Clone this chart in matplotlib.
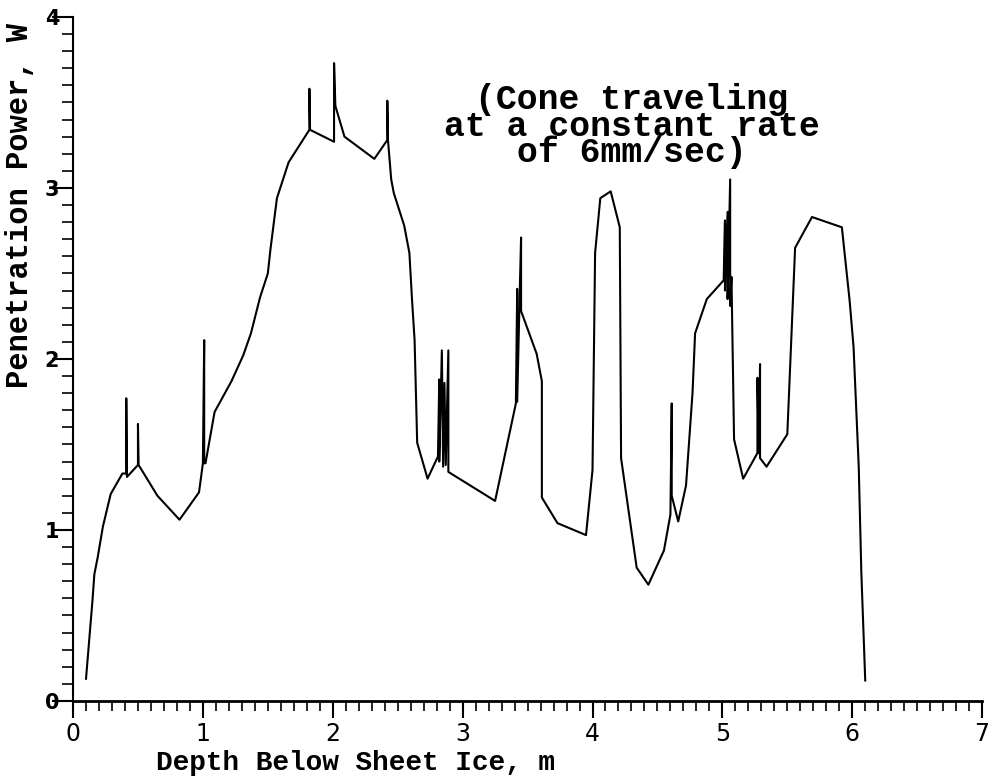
import numpy as np
import matplotlib.pyplot as plt
from matplotlib.ticker import MultipleLocator

# Depth (m) and penetration power (W); repeated depths are the spikes
depth = [0.10, 0.15, 0.164, 0.19, 0.23, 0.29, 0.38,
         0.41, 0.41, 0.415,
         0.50, 0.50, 0.505,
         0.65, 0.82, 0.97, 1.00,
         1.01, 1.01, 1.02,
         1.09, 1.22, 1.31, 1.37, 1.44, 1.50, 1.52, 1.57, 1.66,
         1.82, 1.82, 1.825,
         2.01, 2.01, 2.02,
         2.09, 2.32, 2.42, 2.42, 2.425,
         2.45, 2.47, 2.55, 2.59, 2.61, 2.63, 2.65, 2.73, 2.81,
         2.82, 2.82, 2.84, 2.85, 2.86, 2.87, 2.89, 2.89,
         2.91, 3.25, 3.41,
         3.42, 3.42, 3.44, 3.45, 3.45,
         3.57, 3.61, 3.61, 3.73, 3.95, 4.00, 4.02, 4.06, 4.14, 4.21,
         4.22, 4.34, 4.43, 4.55, 4.60, 4.61, 4.61, 4.66, 4.72, 4.77,
         4.79, 4.88, 5.01,
         5.02, 5.02, 5.04, 5.04, 5.06, 5.06, 5.07,
         5.09, 5.16, 5.27, 5.27, 5.28, 5.29, 5.29, 5.34, 5.50, 5.56,
         5.69, 5.92, 5.98, 6.01, 6.05, 6.07, 6.10]
power = [0.13, 0.59, 0.74, 0.84, 1.02, 1.21, 1.33,
         1.33, 1.77, 1.31,
         1.38, 1.62, 1.38,
         1.20, 1.06, 1.22, 1.39,
         2.11, 1.39, 1.39,
         1.69, 1.87, 2.02, 2.15, 2.36, 2.50, 2.64, 2.94, 3.15,
         3.34, 3.58, 3.34,
         3.27, 3.73, 3.48,
         3.30, 3.17, 3.28, 3.51, 3.28,
         3.05, 2.97, 2.78, 2.62, 2.35, 2.11, 1.51, 1.30, 1.43,
         1.88, 1.40, 2.05, 1.37, 1.86, 1.38, 2.05, 1.34,
         1.33, 1.17, 1.74,
         2.41, 1.75, 2.40, 2.71, 2.28,
         2.03, 1.87, 1.19, 1.04, 0.97, 1.35, 2.62, 2.94, 2.98, 2.77,
         1.42, 0.78, 0.68, 0.88, 1.09, 1.74, 1.20, 1.05, 1.26, 1.80,
         2.15, 2.35, 2.46,
         2.81, 2.40, 2.86, 2.35, 3.05, 2.31, 2.48,
         1.53, 1.30, 1.45, 1.89, 1.45, 1.97, 1.42, 1.37, 1.56, 2.65,
         2.83, 2.77, 2.34, 2.07, 1.37, 0.75, 0.12]

note = "(Cone traveling\nat a constant rate\nof 6mm/sec)"

fig = plt.figure(figsize=(9.99, 7.8), dpi=100)
ax = fig.add_axes([0.0731, 0.1013, 0.910, 0.877])

ax.plot(depth, power, color="black", lw=1.5)

ax.set_xlim(0, 7)
ax.set_ylim(0, 4)
ax.spines["top"].set_visible(False)
ax.spines["right"].set_visible(False)
ax.spines["left"].set_linewidth(1.5)
ax.spines["bottom"].set_linewidth(2.0)

ax.xaxis.set_major_locator(MultipleLocator(1))
ax.xaxis.set_minor_locator(MultipleLocator(0.1))
ax.yaxis.set_major_locator(MultipleLocator(1))
ax.yaxis.set_minor_locator(MultipleLocator(0.1))
ax.tick_params(axis="x", which="major", direction="out", length=12, width=1.5, pad=3)
ax.tick_params(axis="x", which="minor", direction="out", length=7, width=1.2)
ax.tick_params(axis="y", which="major", direction="out", length=15, width=1.5, pad=-5)
ax.tick_params(axis="y", which="minor", direction="out", length=8, width=1.2)

for lab in ax.get_xticklabels():
    lab.set_family(["Liberation Sans Narrow", "DejaVu Sans"])
    lab.set_fontsize(17)
for lab in ax.get_yticklabels():
    lab.set_family(["DejaVu Sans"])
    lab.set_fontsize(15)
    lab.set_fontweight("bold")

fig.text(355 / 999, 1 - 763 / 780, "Depth Below Sheet Ice, m",
         family=["Liberation Mono", "DejaVu Sans Mono"], fontweight="bold",
         fontsize=20, ha="center", va="center")
fig.text(20 / 999, 1 - 205 / 780, "Penetration Power, W",
         family=["Liberation Mono", "DejaVu Sans Mono"], fontweight="bold",
         fontsize=22, ha="center", va="center", rotation=90)

ax.text(4.30, 3.36, note, family=["Liberation Mono", "DejaVu Sans Mono"],
        fontweight="bold", fontsize=25, ha="center", va="center",
        linespacing=0.74)

fig.savefig("out.png", dpi=100)
